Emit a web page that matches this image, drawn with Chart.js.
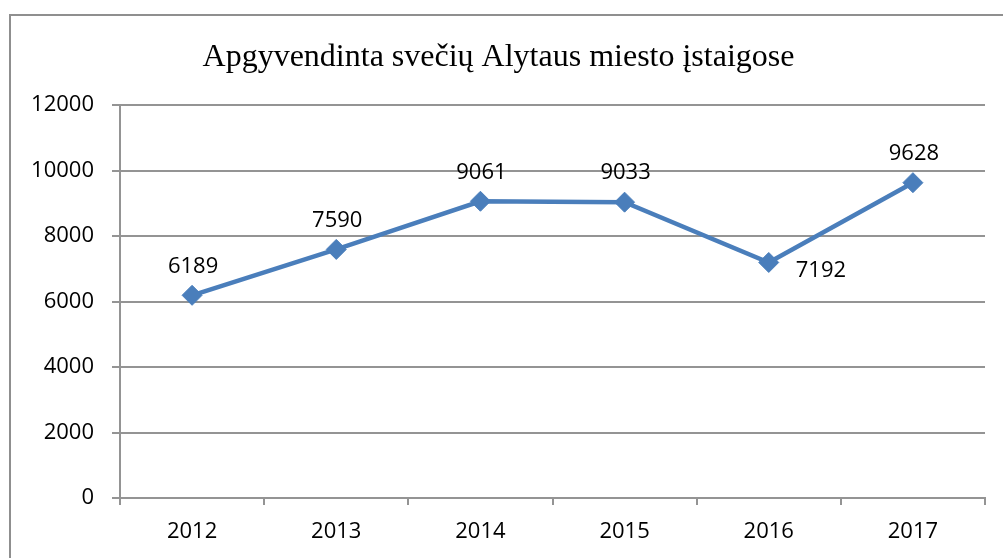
<!DOCTYPE html>
<html>
<head>
<meta charset="utf-8">
<script src="https://cdn.jsdelivr.net/npm/chart.js@4/dist/chart.umd.min.js"></script>
<style>
  html, body { margin: 0; padding: 0; background: #fff; overflow: hidden; }
  #frame { position: absolute; left: 9px; top: 14px; width: 1100px; height: 700px; border: 2px solid #8f8f8f; }
  #mycanvas { position: absolute; left: 0; top: 0; }
</style>
</head>
<body>
<div id="frame"></div>
<canvas id="mycanvas" width="1003" height="558"></canvas>
<script>
var years = ['2012', '2013', '2014', '2015', '2016', '2017'];
var guests = [6189, 7590, 9061, 9033, 7192, 9628];
var yTicks = [0, 2000, 4000, 6000, 8000, 10000, 12000];
var labelPos = ['above', 'above', 'above', 'above', 'right', 'above'];

var textFont = 'Open Sans';
var gridColor = '#949494';

var pointLabels = {
	id: 'pointLabels',
	afterDatasetsDraw: function(chart) {
		var ctx = chart.ctx;
		var meta = chart.getDatasetMeta(0);
		ctx.save();
		ctx.font = '22px "' + textFont + '"';
		ctx.fillStyle = '#000';
		ctx.textBaseline = 'middle';
		meta.data.forEach(function(pt, i) {
			var txt = String(guests[i]);
			if (labelPos[i] === 'right') {
				ctx.textAlign = 'left';
				ctx.fillText(txt, pt.x + 27, pt.y + 8);
			} else {
				ctx.textAlign = 'center';
				ctx.fillText(txt, pt.x + 1, pt.y - 29);
			}
		});
		ctx.restore();
	}
};

var ctx = document.getElementById('mycanvas');
var chart = new Chart(ctx, {
	type: 'line',
	data: {
		labels: years,
		datasets: [{
			label: 'Apgyvendinta svečių',
			data: guests,
			borderColor: '#4a7ebb',
			backgroundColor: '#4a7ebb',
			borderWidth: 4.5,
			tension: 0,
			pointStyle: 'rectRot',
			pointRadius: 10,
			pointBorderWidth: 1,
			pointBorderColor: '#4a7ebb',
			pointBackgroundColor: '#4a7ebb'
		}]
	},
	options: {
		responsive: false,
		animation: false,
		layout: { padding: { left: 12, right: 18, top: 0, bottom: 0 } },
		plugins: {
			legend: { display: false },
			tooltip: { enabled: false },
			title: {
				display: true,
				text: 'Apgyvendinta svečių Alytaus miesto įstaigose',
				color: '#000',
				font: { family: 'Liberation Serif', size: 32, weight: 'normal', lineHeight: 1.2 },
				padding: { top: 38, bottom: 28.6 }
			}
		},
		scales: {
			x: {
				offset: true,
				grid: { display: true, drawOnChartArea: false, drawTicks: true, tickLength: 7, color: gridColor, lineWidth: 2, offset: true },
				border: { display: true, color: gridColor, width: 2 },
				ticks: { color: '#000', padding: 14, font: { family: textFont, size: 22 } },
				afterFit: function(s) { s.height = 60; }
			},
			y: {
				min: 0,
				max: 12000,
				afterBuildTicks: function(s) { s.ticks = yTicks.map(function(v) { return { value: v }; }); },
				grid: { color: gridColor, lineWidth: 2, tickLength: 8 },
				border: { display: true, color: gridColor, width: 2 },
				ticks: {
					color: '#000', padding: 18, font: { family: textFont, size: 22 },
					callback: function(v) { return String(v); }
				},
				afterFit: function(s) { s.width = 108; }
			}
		}
	},
	plugins: [pointLabels]
});
</script>
</body>
</html>
